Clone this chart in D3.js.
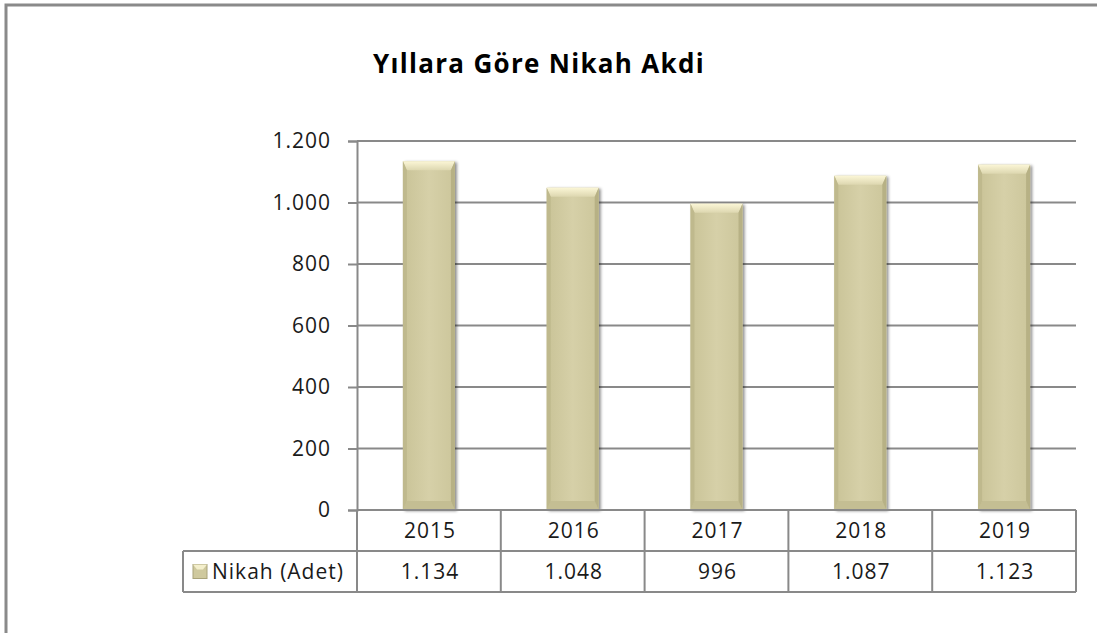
<!DOCTYPE html>
<html>
<head>
<meta charset="utf-8">
<script src="https://cdn.jsdelivr.net/npm/d3@7"></script>
<style>
  body { margin: 0; background: #fff; }
  text { font-family: "Open Sans", Lato, sans-serif; fill: #1a1a1a; }
</style>
</head>
<body>
<svg width="1097" height="633"></svg>
<script>
// chart data
var years = ['2015', '2016', '2017', '2018', '2019'];
var nikah = [1134, 1048, 996, 1087, 1123];
var yTicks = [0, 200, 400, 600, 800, 1000, 1200];
var seriesName = 'Nikah (Adet)';
var title = 'Yıllara Göre Nikah Akdi';

var svg = d3.select('svg');
var trLocale = d3.formatLocale({decimal: ',', thousands: '.', grouping: [3], currency: ['', '₺']});
var fmt = trLocale.format(',d');

var plotL = 357, plotR = 1076, plotT = 141, plotB = 510;
var rowH = 41, legendLeft = 183;
var fs = '21px', ls = '1px';

var x = d3.scaleBand().domain(years).range([plotL, plotR]).paddingInner(0).paddingOuter(0);
var y = d3.scaleLinear().domain([0, 1200]).range([plotB, plotT]);

// outer frame (only top and left visible)
svg.append('path').attr('d', 'M6,633 V5 H1097')
    .attr('fill', 'none').attr('stroke', '#8a8a8a').attr('stroke-width', 3);

// title
svg.append('text').attr('x', 539).attr('y', 73).attr('text-anchor', 'middle')
    .style('font-size', '26px').style('font-weight', 'bold').style('fill', '#000')
    .style('letter-spacing', '1.3px')
    .text(title);

// gradients
var defs = svg.append('defs');
var body = defs.append('linearGradient').attr('id', 'body').attr('x1', 0).attr('x2', 1).attr('y1', 0).attr('y2', 0);
body.append('stop').attr('offset', '0%').attr('stop-color', '#c9c397');
body.append('stop').attr('offset', '50%').attr('stop-color', '#d6d0a8');
body.append('stop').attr('offset', '100%').attr('stop-color', '#ccc69b');
var topG = defs.append('linearGradient').attr('id', 'topbev').attr('x1', 0).attr('x2', 0).attr('y1', 0).attr('y2', 1);
topG.append('stop').attr('offset', '0%').attr('stop-color', '#fbf6d6');
topG.append('stop').attr('offset', '100%').attr('stop-color', '#ddd7b0');
var f = defs.append('filter').attr('id', 'shadow').attr('x', '-20%').attr('y', '-5%').attr('width', '150%').attr('height', '115%');
f.append('feDropShadow').attr('dx', 2).attr('dy', 1).attr('stdDeviation', 1.5).attr('flood-color', '#000').attr('flood-opacity', 0.45);

// gridlines
svg.append('g').selectAll('line').data(yTicks.filter(function(d) { return d > 0; }))
    .enter().append('line')
    .attr('x1', plotL).attr('x2', plotR)
    .attr('y1', function(d) { return y(d); }).attr('y2', function(d) { return y(d); })
    .attr('stroke', '#898989').attr('stroke-width', 2);

// y axis
var yAxis = svg.append('g').attr('transform', 'translate(' + plotL + ',0)')
    .call(d3.axisLeft(y).tickValues(yTicks).tickFormat(fmt).tickSize(9).tickPadding(17));
yAxis.select('.domain').attr('stroke', '#898989').attr('stroke-width', 2);
yAxis.selectAll('.tick line').attr('stroke', '#898989').attr('stroke-width', 2);
yAxis.selectAll('.tick text').style('font-size', fs).style('fill', '#1a1a1a')
    .style('font-family', '"Open Sans", sans-serif').style('letter-spacing', ls);

// bars
var bw = 52, bev = 9, side = 4;
var bars = svg.append('g').selectAll('g').data(nikah).enter().append('g')
    .attr('transform', function(d, i) {
        return 'translate(' + (x(years[i]) + x.bandwidth() / 2 - bw / 2) + ',' + y(d) + ')';
    });
bars.append('rect').attr('width', bw).attr('height', function(d) { return y(0) - y(d); })
    .attr('fill', 'url(#body)').attr('filter', 'url(#shadow)');
bars.append('path').attr('d', 'M0,0 H' + bw + ' L' + (bw - side) + ',' + bev + ' H' + side + ' Z')
    .attr('fill', 'url(#topbev)');
bars.append('path').attr('d', function(d) {
        var h = y(0) - y(d);
        return 'M0,' + h + ' H' + bw + ' L' + (bw - side) + ',' + (h - bev) + ' H' + side + ' Z';
    })
    .attr('fill', '#c4be93');
bars.append('path').attr('d', function(d) {
        var h = y(0) - y(d);
        return 'M0,0 L' + side + ',' + bev + ' V' + (h - bev) + ' L0,' + h + ' Z';
    }).attr('fill', '#bfb98d');
bars.append('path').attr('d', function(d) {
        var h = y(0) - y(d);
        return 'M' + bw + ',0 L' + (bw - side) + ',' + bev + ' V' + (h - bev) + ' L' + bw + ',' + h + ' Z';
    }).attr('fill', '#b7b185');

// data table
var tbl = svg.append('g');
var lineC = '#898989';
tbl.append('line').attr('x1', plotL).attr('x2', plotR).attr('y1', plotB).attr('y2', plotB)
    .attr('stroke', lineC).attr('stroke-width', 2);
tbl.append('line').attr('x1', legendLeft).attr('x2', plotR).attr('y1', plotB + rowH).attr('y2', plotB + rowH)
    .attr('stroke', lineC).attr('stroke-width', 2);
tbl.append('line').attr('x1', legendLeft).attr('x2', plotR).attr('y1', plotB + 2 * rowH).attr('y2', plotB + 2 * rowH)
    .attr('stroke', lineC).attr('stroke-width', 2);
tbl.append('line').attr('x1', legendLeft).attr('x2', legendLeft).attr('y1', plotB + rowH).attr('y2', plotB + 2 * rowH)
    .attr('stroke', lineC).attr('stroke-width', 2);
var cols = years.map(function(d) { return x(d); }).concat([plotR]);
tbl.selectAll('.vl').data(cols).enter().append('line')
    .attr('x1', function(d) { return d; }).attr('x2', function(d) { return d; })
    .attr('y1', plotB).attr('y2', plotB + 2 * rowH)
    .attr('stroke', lineC).attr('stroke-width', 2);

tbl.selectAll('.yr').data(years).enter().append('text')
    .attr('x', function(d) { return x(d) + x.bandwidth() / 2 + 1; })
    .attr('y', plotB + rowH / 2 + 7.5).attr('text-anchor', 'middle')
    .style('font-size', fs).style('letter-spacing', ls).text(function(d) { return d; });
tbl.selectAll('.val').data(nikah).enter().append('text')
    .attr('x', function(d, i) { return x(years[i]) + x.bandwidth() / 2 + 1; })
    .attr('y', plotB + rowH * 1.5 + 7.5).attr('text-anchor', 'middle')
    .style('font-size', fs).style('letter-spacing', ls).text(function(d) { return fmt(d); });

// legend key
var ks = 14, ky = plotB + rowH * 1.5 - ks / 2;
tbl.append('rect').attr('x', legendLeft + 10).attr('y', ky).attr('width', ks).attr('height', ks)
    .attr('fill', '#cfc99e').attr('stroke', '#a9a37a').attr('stroke-width', 1);
tbl.append('path').attr('d', 'M' + (legendLeft + 10) + ',' + ky + ' h' + ks + ' l-4,5 h-' + (ks - 8) + ' Z').attr('fill', '#f4efcc');
tbl.append('text').attr('x', legendLeft + 29).attr('y', plotB + rowH * 1.5 + 7.5)
    .style('font-size', fs).style('letter-spacing', ls).text(seriesName);
</script>
</body>
</html>
